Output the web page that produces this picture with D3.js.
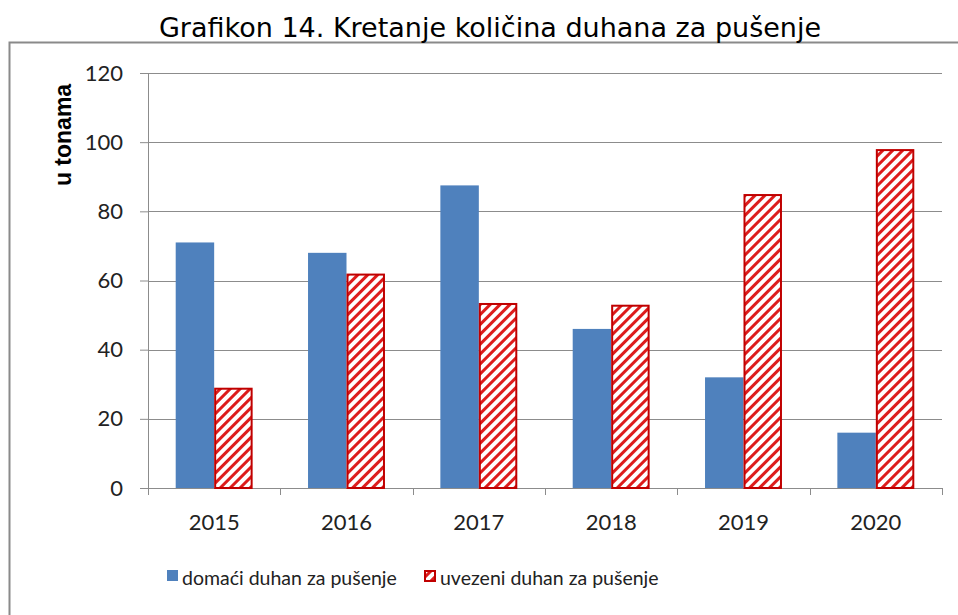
<!DOCTYPE html>
<html>
<head>
<meta charset="utf-8">
<script src="https://cdn.jsdelivr.net/npm/d3@7"></script>
<style>
  body { margin: 0; background: #fff; }
  svg { display: block; }
</style>
</head>
<body>
<div id="chart"></div>
<script>
var years = ["2015", "2016", "2017", "2018", "2019", "2020"];
var domaci = [71, 68, 87.5, 46, 32, 16];
var uvezeni = [29, 62, 53.5, 53, 85, 98];
var yTicks = [0, 20, 40, 60, 80, 100, 120];
var seriesNames = ["domaći duhan za pušenje", "uvezeni duhan za pušenje"];

var W = 958, H = 615;
var margin = {top: 73, right: 16, bottom: 127, left: 148};
var plotW = W - margin.left - margin.right;
var plotH = H - margin.top - margin.bottom;
var labelFont = "Lato, 'Open Sans', sans-serif";

var svg = d3.select("#chart").append("svg")
    .attr("width", W)
    .attr("height", H);

// hatch pattern
var defs = svg.append("defs");
var pat = defs.append("pattern")
    .attr("id", "hatch")
    .attr("patternUnits", "userSpaceOnUse")
    .attr("width", 7)
    .attr("height", 7)
    .attr("patternTransform", "rotate(45)");
pat.append("rect").attr("width", 7).attr("height", 7).attr("fill", "#fff");
pat.append("rect").attr("x", 0).attr("y", 0).attr("width", 3).attr("height", 7).attr("fill", "#dd1c1c");

// outer frame
svg.append("rect")
    .attr("x", 9.5).attr("y", 42.5)
    .attr("width", W + 10).attr("height", H + 10)
    .attr("fill", "none")
    .attr("stroke", "#8a8a8a")
    .attr("stroke-width", 2);

// title
svg.append("text")
    .attr("x", 490).attr("y", 37)
    .attr("text-anchor", "middle")
    .style("font-family", "'DejaVu Sans', Verdana, sans-serif")
    .style("font-size", "27px")
    .attr("fill", "#000")
    .text("Grafikon 14. Kretanje količina duhana za pušenje");

var g = svg.append("g").attr("transform", "translate(" + margin.left + "," + margin.top + ")");

var x0 = d3.scaleBand().domain(years).range([0, plotW]).paddingInner(0).paddingOuter(0);
var x1 = d3.scaleBand().domain([0, 1]).range([0, x0.bandwidth()]).paddingInner(0).paddingOuter(0.72);
var y = d3.scaleLinear().domain([0, 120]).range([plotH, 0]);

// gridlines
g.selectAll("line.grid")
    .data(yTicks.slice(1))
    .enter().append("line")
    .attr("class", "grid")
    .attr("x1", 0).attr("x2", plotW)
    .attr("y1", function (d) { return Math.round(y(d)) + 0.5; })
    .attr("y2", function (d) { return Math.round(y(d)) + 0.5; })
    .attr("stroke", "#8c8c8c")
    .attr("stroke-width", 1);

// y axis
var yAxis = g.append("g")
    .call(d3.axisLeft(y).tickValues(yTicks).tickSize(8).tickPadding(17));
yAxis.select(".domain").attr("stroke", "#8c8c8c").attr("d", "M0.5," + plotH + "V0");
yAxis.selectAll(".tick line").attr("stroke", "#8c8c8c");
yAxis.selectAll(".tick text")
    .style("font-family", labelFont)
    .style("font-size", "22px")
    .attr("fill", "#222");

// x axis
var xAxis = g.append("g")
    .attr("transform", "translate(0," + plotH + ")")
    .call(d3.axisBottom(x0).tickSize(0).tickPadding(26));
xAxis.select(".domain").attr("stroke", "#8c8c8c");
xAxis.selectAll(".tick text")
    .style("font-family", labelFont)
    .style("font-size", "22px")
    .attr("fill", "#222");
g.selectAll("line.xtick")
    .data(years.concat(["end"]))
    .enter().append("line")
    .attr("class", "xtick")
    .attr("x1", function (d, i) { return Math.round(i * x0.step()) + 0.5; })
    .attr("x2", function (d, i) { return Math.round(i * x0.step()) + 0.5; })
    .attr("y1", plotH).attr("y2", plotH + 7)
    .attr("stroke", "#8c8c8c");

// bars
var groups = g.selectAll("g.year")
    .data(years)
    .enter().append("g")
    .attr("class", "year")
    .attr("transform", function (d) { return "translate(" + x0(d) + ",0)"; });

groups.append("rect")
    .attr("x", x1(0))
    .attr("y", function (d, i) { return y(domaci[i]); })
    .attr("width", x1.bandwidth())
    .attr("height", function (d, i) { return plotH - y(domaci[i]); })
    .attr("fill", "#4f81bd");

groups.append("rect")
    .attr("x", x1(1) + 1)
    .attr("y", function (d, i) { return y(uvezeni[i]) + 1; })
    .attr("width", x1.bandwidth() - 2)
    .attr("height", function (d, i) { return plotH - y(uvezeni[i]) - 1; })
    .attr("fill", "url(#hatch)")
    .attr("stroke", "#c00000")
    .attr("stroke-width", 2);

// y axis title
svg.append("text")
    .attr("transform", "translate(71,135) rotate(-90)")
    .attr("text-anchor", "middle")
    .style("font-family", "'Liberation Sans', Arial, sans-serif")
    .style("font-size", "23px")
    .style("font-weight", "bold")
    .attr("fill", "#000")
    .text("u tonama");

// legend
var legend = svg.append("g");
legend.append("rect")
    .attr("x", 167).attr("y", 570).attr("width", 11).attr("height", 11)
    .attr("fill", "#4f81bd");
legend.append("text")
    .attr("x", 182).attr("y", 585)
    .style("font-family", labelFont)
    .style("font-size", "19.5px")
    .attr("fill", "#222")
    .text(seriesNames[0]);
legend.append("rect")
    .attr("x", 425).attr("y", 571).attr("width", 10).attr("height", 10)
    .attr("fill", "url(#hatch)")
    .attr("stroke", "#c00000")
    .attr("stroke-width", 2);
legend.append("text")
    .attr("x", 440).attr("y", 585)
    .style("font-family", labelFont)
    .style("font-size", "19.5px")
    .attr("fill", "#222")
    .text(seriesNames[1]);
</script>
</body>
</html>
